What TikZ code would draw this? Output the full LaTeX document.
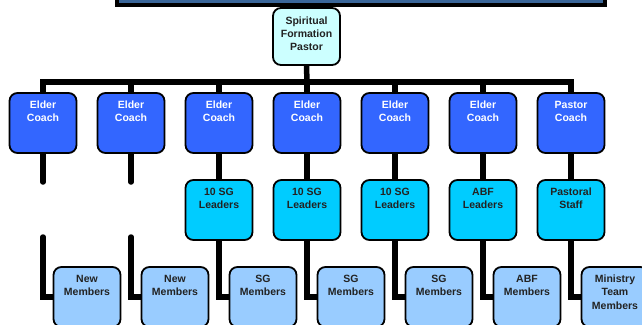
\documentclass[tikz,border=0pt]{standalone}
\usepackage{fontspec}
\setmainfont{Liberation Sans}
\usepackage{tikz}
\usetikzlibrary{positioning,backgrounds}
\definecolor{bannerblue}{RGB}{58,102,153}
\definecolor{pastorcyan}{RGB}{204,255,255}
\definecolor{coachblue}{RGB}{51,102,255}
\definecolor{leadercyan}{RGB}{0,204,255}
\definecolor{memberblue}{RGB}{153,204,255}
\definecolor{inkgrey}{RGB}{34,34,34}

\begin{document}
\begin{tikzpicture}[
  x=1pt, y=-1pt,
  boxtext/.initial=44pt,
  every node/.style={font=\bfseries\fontsize{10.5}{13.2}\selectfont, text=inkgrey},
  orgbox/.style={rectangle, draw=black, line width=1.8pt, rounded corners=8pt,
                 minimum width=67pt, minimum height=60pt, inner sep=0pt,
                 execute at begin node={\begin{minipage}[c][\pgfkeysvalueof{/tikz/boxtext}][t]{66pt}\centering},
                 execute at end node={\end{minipage}}},
  pastorbox/.style={orgbox, fill=pastorcyan, minimum height=57pt, boxtext=40pt},
  coachbox/.style={orgbox, fill=coachblue, text=white},
  leaderbox/.style={orgbox, fill=leadercyan},
  memberbox/.style={orgbox, fill=memberblue},
  conn/.style={draw=black, line width=5.5pt}
]
  \useasboundingbox (0,0) rectangle (642,324);

  % banner at the top, cut by the page edge
  \draw[fill=bannerblue, line width=4.5pt] (117,-20) rectangle (605,5);

  \node[pastorbox] (p) at (306.5,36.5) {Spiritual\\Formation\\Pastor};

  % coaches
  \node[coachbox] (e1) at (43,123)  {Elder\\Coach};
  \node[coachbox] (e2) at (131,123) {Elder\\Coach};
  \node[coachbox] (e3) at (219,123) {Elder\\Coach};
  \node[coachbox] (e4) at (307,123) {Elder\\Coach};
  \node[coachbox] (e5) at (395,123) {Elder\\Coach};
  \node[coachbox] (e6) at (483,123) {Elder\\Coach};
  \node[coachbox] (e7) at (571,123) {Pastor\\Coach};

  % leaders
  \node[leaderbox] (l3) at (219,210) {10 SG\\Leaders};
  \node[leaderbox] (l4) at (307,210) {10 SG\\Leaders};
  \node[leaderbox] (l5) at (395,210) {10 SG\\Leaders};
  \node[leaderbox] (l6) at (483,210) {ABF\\Leaders};
  \node[leaderbox] (l7) at (571,210) {Pastoral\\Staff};

  % members
  \node[memberbox] (m1) at (87,297)  {New\\Members};
  \node[memberbox] (m2) at (175,297) {New\\Members};
  \node[memberbox] (m3) at (263,297) {SG\\Members};
  \node[memberbox] (m4) at (351,297) {SG\\Members};
  \node[memberbox] (m5) at (439,297) {SG\\Members};
  \node[memberbox] (m6) at (527,297) {ABF\\Members};
  \node[memberbox] (m7) at (615,297) {Ministry\\Team\\Members};

  \coordinate (bar) at (307,82);
  \coordinate (s1a) at (43,182);
  \coordinate (s1b) at (43,237);
  \coordinate (s2a) at (131,182);
  \coordinate (s2b) at (131,237);

  \begin{scope}[on background layer]
    \draw[conn] (e1.north) |- (bar) -| (e7.north);
    \draw[conn] (p.south) -- (bar);
    \draw[conn] (e2.north) -- (e2.north |- bar);
    \draw[conn] (e3.north) -- (e3.north |- bar);
    \draw[conn] (e4.north) -- (e4.north |- bar);
    \draw[conn] (e5.north) -- (e5.north |- bar);
    \draw[conn] (e6.north) -- (e6.north |- bar);
    % broken lines where no leader box stands
    \draw[conn, line cap=round] (e1.south) -- (s1a);
    \draw[conn, line cap=round] (s1b) |- (m1.west);
    \draw[conn, line cap=round] (e2.south) -- (s2a);
    \draw[conn, line cap=round] (s2b) |- (m2.west);
    \draw[conn] (e3.south) -- (l3.north);
    \draw[conn] (e4.south) -- (l4.north);
    \draw[conn] (e5.south) -- (l5.north);
    \draw[conn] (e6.south) -- (l6.north);
    \draw[conn] (e7.south) -- (l7.north);
    \draw[conn] (l3.south) |- (m3.west);
    \draw[conn] (l4.south) |- (m4.west);
    \draw[conn] (l5.south) |- (m5.west);
    \draw[conn] (l6.south) |- (m6.west);
    \draw[conn] (l7.south) |- (m7.west);
  \end{scope}
\end{tikzpicture}
\end{document}
